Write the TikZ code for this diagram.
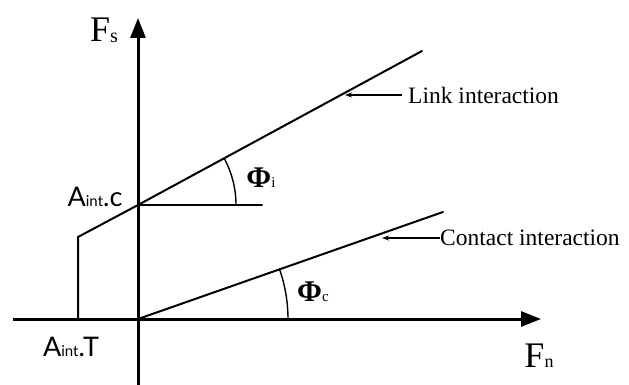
\documentclass[tikz,border=0pt]{standalone}
\usepackage{fontspec}
\setmainfont{Liberation Serif}
\newfontfamily\gillish{Lato}
\usetikzlibrary{arrows.meta,calc}
\tikzset{
  axis/.style={line width=3pt,-{Triangle[length=20pt,width=15pt]}},
  graphline/.style={line width=2pt,line cap=round},
  anglearc/.style={line width=1.4pt},
  pointer/.style={line width=1.4pt,-{Stealth[length=7pt,width=5pt]}},
  serifbig/.style={font=\fontsize{36}{36}\selectfont,inner sep=0pt},
  phiLabel/.style={font=\fontsize{30}{30}\selectfont,inner sep=0pt},
  aLabel/.style={font=\gillish\fontsize{27}{27}\selectfont,inner sep=0pt},
  note/.style={font=\fontsize{23.5}{23.5}\selectfont,inner sep=0pt,anchor=west}
}
\begin{document}
\begin{tikzpicture}[x=1pt,y=-1pt]
\useasboundingbox[fill=white] (0,0) rectangle (629,385);
% axes
\coordinate (O) at (138,319);
\coordinate (ytop) at (138,18);
\coordinate (ybot) at (138,387);
\coordinate (xl) at (13,319);
\coordinate (xr) at (541,319);
\draw[axis] (ybot) -- (ytop);
\draw[axis] (xl) -- (xr);
% link interaction envelope
\coordinate (C) at (138,205);
\coordinate (K) at (78,237);
\coordinate (T) at (78,319);
\coordinate (L1) at (422,51);
\coordinate (H) at (262,205);
\coordinate (L2) at (443,212);
\draw[graphline] (T) -- (K) -- (C) -- (L1);
\draw[graphline] (C) -- (H);
\draw[graphline] (O) -- (L2);
% angle arcs
\draw[anglearc] ($(C)+(98,0)$) arc[start angle=0,end angle=28.6,radius=98pt];
\draw[anglearc] ($(O)+(150,0)$) arc[start angle=0,end angle=19.3,radius=150pt];
% labels
\node[serifbig] (Fs) at (104,30) {F\raisebox{-1pt}{\fontsize{20}{20}\selectfont s}};
\node[serifbig] (Fn) at (539,356) {F\fontsize{18}{18}\selectfont n};
\node[phiLabel] (phii) at (261,178) {{\bfseries Φ}\fontsize{15}{15}\selectfont i};
\node[phiLabel] (phic) at (313,292) {{\bfseries Φ}\fontsize{15}{15}\selectfont c};
\node[aLabel] (Ac) at (95,197) {A\fontsize{15}{15}\selectfont int\fontsize{27}{27}\selectfont .c};
\node[aLabel] (At) at (71,347) {A\fontsize{15}{15}\selectfont int\fontsize{27}{27}\selectfont .T};
% pointers
\coordinate (tipL) at (345,95);
\coordinate (tipC) at (382,238);
\node[note] (link) at (408,95) {Link interaction};
\node[note] (contact) at (440,238) {Contact interaction};
\draw[pointer] ([xshift=-6pt]link.west) -- (tipL);
\draw[pointer] (contact.west) -- (tipC);
\end{tikzpicture}
\end{document}
